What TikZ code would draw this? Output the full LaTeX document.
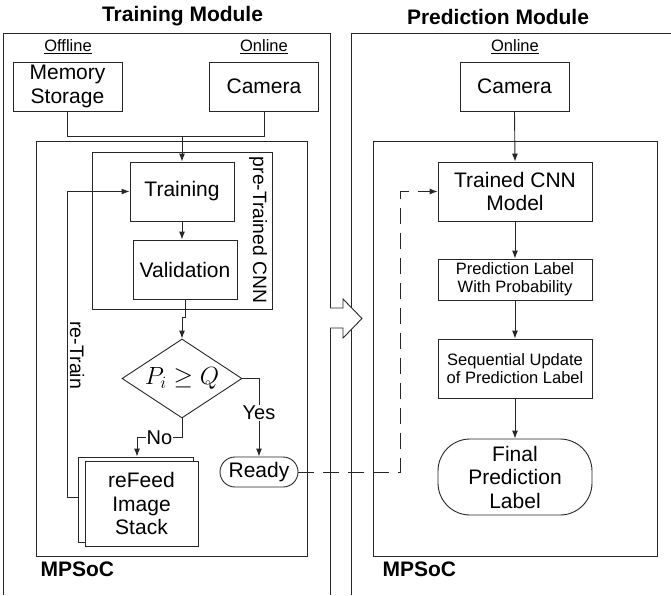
\documentclass[tikz,border=0pt]{standalone}
\usepackage{fontspec}
\setmainfont{Liberation Sans}
\usetikzlibrary{arrows.meta,shapes.geometric}
\begin{document}
\begin{tikzpicture}[x=1pt,y=-1pt,
  ln/.style={draw=black!85,line width=0.9pt},
  conn/.style={ln,-{Latex[length=8pt,width=6pt]}},
  dconn/.style={ln,dash pattern=on 16pt off 9pt,-{Latex[length=8pt,width=6pt]}},
  box/.style={ln,inner sep=0pt,align=center,font=\fontsize{21}{23.5}\selectfont},
  sbox/.style={box,font=\fontsize{16.5}{17.7}\selectfont},
  ttl/.style={font=\fontsize{21}{24}\selectfont\bfseries},
  sub/.style={font=\fontsize{16.5}{18}\selectfont},
  lbl/.style={font=\fontsize{20}{22}\selectfont,inner sep=1pt},
]
\useasboundingbox (0,0) rectangle (671,595);
% titles
\node[ttl] (t1) at (182.5,16.5) {Training Module};
\node[ttl] (t2) at (498,16.5) {Prediction Module};
% outer module boxes
\draw[ln] (3,595) -- (3,33) -- (330,33) -- (330,595);
\draw[ln] (351,595) -- (351,33) -- (672,33);
% MPSoC boxes
\draw[ln] (36,141) rectangle (307,556);
\draw[ln] (373,141) rectangle (657,556);
\node[ttl,anchor=west] (m1) at (37,569) {MPSoC};
\node[ttl,anchor=west] (m2) at (379,569) {MPSoC};
% sub labels
\node[sub] (off) at (68,46.5) {\underline{Offline}};
\node[sub] (on1) at (264,46.5) {\underline{Online}};
\node[sub] (on2) at (515,46.5) {\underline{Online}};
% left module
\node[box,minimum width=109pt,minimum height=49pt] (mem) at (67.5,86.5) {Memory\\Storage};
\node[box,minimum width=109pt,minimum height=49pt] (camL) at (264,86.5) {Camera};
\node[ln,minimum width=180pt,minimum height=157pt,inner sep=0pt] (pre) at (182,230.5) {};
\node[font=\fontsize{19.3}{21}\selectfont,rotate=-90] (prel) at (258,230) {pre-Trained CNN};
\node[box,minimum width=104pt,minimum height=59pt] (train) at (182,191.5) {Training};
\node[box,minimum width=104pt,minimum height=59pt] (valid) at (185,269.5) {Validation};
\node[ln,shape=diamond,aspect=1.52,inner sep=0pt,minimum width=120pt,minimum height=79pt,font=\fontsize{24}{24}\selectfont] (dia) at (182,378.5) {$P_i \geq Q$};
\node[box,minimum width=115pt,minimum height=85pt] (back) at (135.5,499.5) {};
\node[box,fill=white,minimum width=113pt,minimum height=85pt] (stack) at (141.5,503.5) {reFeed\\Image\\Stack};
\node[box,rounded corners=15pt,minimum width=78pt,minimum height=30pt] (ready) at (259,472) {Ready};
\coordinate (j) at (182,136);
\draw[ln] (mem.south) |- (j);
\draw[ln] (camL.south) |- (j);
\draw[conn] (j) -- (train.north);
\draw[conn] (train.south) -- (train.south |- valid.north);
\draw[conn] (valid.south) -- ++(0,18) -| (dia.north);
\draw[conn] (dia.east) -| (ready.north) node[pos=0.72,lbl,fill=white] {Yes};
\draw[conn] (dia.south) -- ++(0,19) -| ([xshift=1.5pt]back.north) node[pos=0.25,lbl,fill=white] {No};
\draw[conn] ([yshift=2.5pt]back.west) -- ++(-10,0) |- (train.west) node[pos=0.232,font=\fontsize{19.5}{21}\selectfont,rotate=-90,anchor=south,inner sep=2pt] {re-Train};
% module arrow
\draw[ln,fill=white] (330,308) -- (343,308) -- (343,299) -- (362,318.5) -- (343,338) -- (343,328) -- (330,328);
% right module
\node[box,minimum width=109pt,minimum height=49pt] (camR) at (514.5,86.5) {Camera};
\node[box,minimum width=154pt,minimum height=59pt] (tcnn) at (515,191.5) {Trained CNN\\Model};
\node[sbox,minimum width=154pt,minimum height=41pt] (pred) at (515,279.5) {Prediction Label\\With Probability};
\node[sbox,minimum width=154pt,minimum height=59pt] (seq) at (515,368.5) {Sequential Update\\of Prediction Label};
\node[box,rounded corners=32pt,minimum width=154pt,minimum height=76pt] (fin) at (515,477) {Final\\Prediction\\Label};
\draw[conn] (camR.south) -- (tcnn.north);
\draw[conn] (tcnn) -- (pred);
\draw[conn] (pred) -- (seq);
\draw[conn] (seq) -- (fin);
\coordinate (dc) at (400,472);
\draw[dconn] (ready.east) -- (dc) |- (tcnn.west);
\end{tikzpicture}
\end{document}
